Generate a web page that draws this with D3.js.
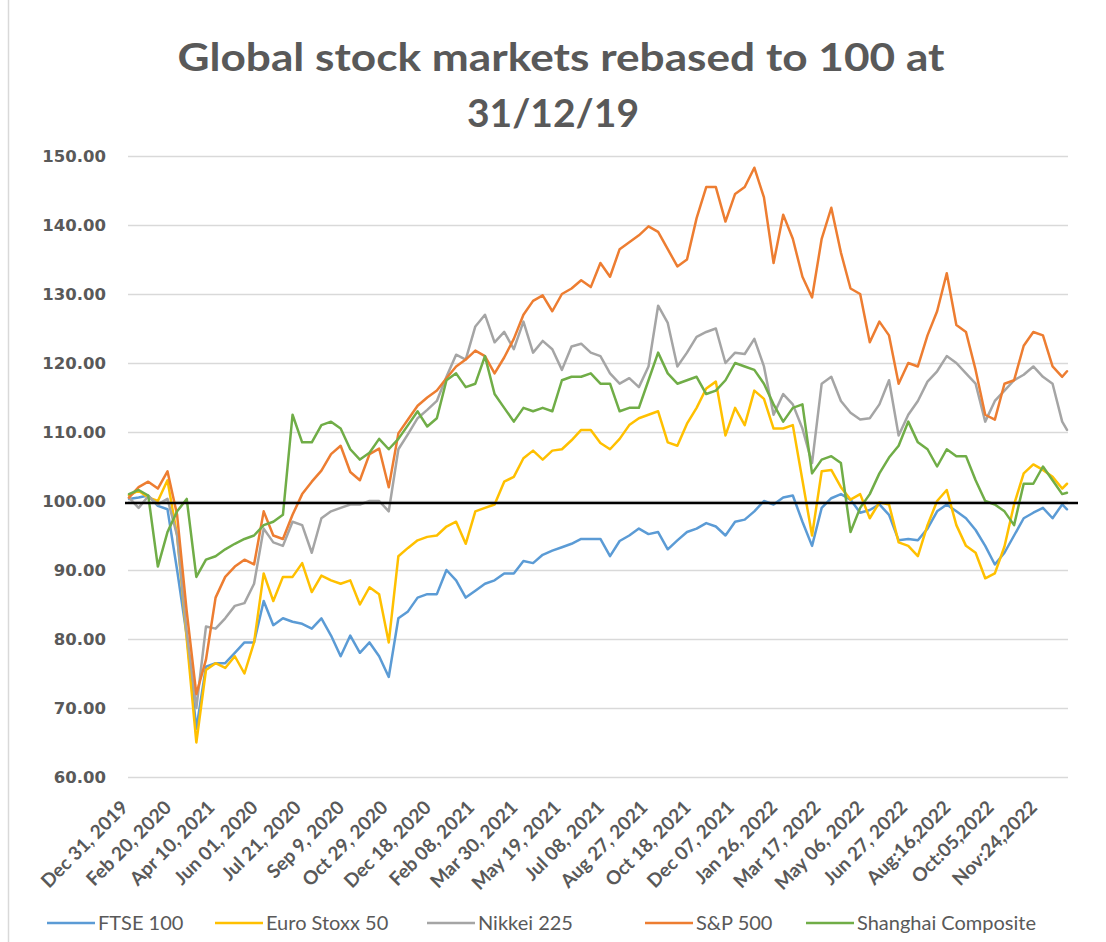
<!DOCTYPE html>
<html>
<head>
<meta charset="utf-8">
<script src="https://cdn.jsdelivr.net/npm/d3@7"></script>
<style>
  body { margin: 0; background: #fff; }
  svg { display: block; }
</style>
</head>
<body>
<script>

// ---- data (one value every 8th trading day) ----

var dayIndex = d3.range(0, 777, 8).concat([780]);

var axisLabels = ["Dec 31, 2019", "Feb 20, 2020", "Apr 10, 2021", "Jun 01, 2020", "Jul 21, 2020",
    "Sep 9, 2020", "Oct 29, 2020", "Dec 18, 2020", "Feb 08, 2021", "Mar 30, 2021", "May 19, 2021",
    "Jul 08, 2021", "Aug 27, 2021", "Oct 18, 2021", "Dec 07, 2021", "Jan 26, 2022", "Mar 17, 2022",
    "May 06, 2022", "Jun 27, 2022", "Aug:16,2022", "Oct:05,2022", "Nov:24,2022"];
var labelEvery = 36;

var seriesNames = ["FTSE 100", "Euro Stoxx 50", "Nikkei 225", "S&P 500", "Shanghai Composite"];
var seriesColors = ["#5B9BD5", "#FFC000", "#A5A5A5", "#ED7D31", "#70AD47"];

var ftse = [100.3, 100.5, 100.8, 99.3, 98.8, 90, 80.5, 67, 76, 76.5,
    76.5, 78, 79.5, 79.5, 85.5, 82, 83, 82.5, 82.2, 81.5,
    83, 80.5, 77.5, 80.5, 78, 79.5, 77.5, 74.5, 83, 84,
    86, 86.5, 86.5, 90, 88.5, 86, 87, 88, 88.5, 89.5,
    89.5, 91.3, 91, 92.2, 92.8, 93.3, 93.8, 94.5, 94.5, 94.5,
    92, 94.2, 95, 96, 95.2, 95.5, 93, 94.3, 95.5, 96,
    96.8, 96.3, 95, 97, 97.3, 98.5, 100, 99.5, 100.5, 100.8,
    97, 93.5, 99, 100.4, 101, 100.2, 98.3, 98.7, 99.5, 98,
    94.3, 94.5, 94.3, 96, 98.5, 99.5, 98.5, 97.5, 95.8, 93.5,
    90.8, 92.5, 95, 97.5, 98.3, 99, 97.5, 99.5, 98.8];

var stoxx = [100.8, 101.5, 100.5, 100, 103, 95, 80, 65, 75.5, 76.5,
    75.8, 77.5, 75, 79.5, 89.5, 85.5, 89, 89, 91, 86.8,
    89.2, 88.5, 88, 88.5, 85, 87.5, 86.5, 79.5, 92, 93.2,
    94.3, 94.8, 95, 96.3, 97, 93.8, 98.5, 99, 99.5, 102.8,
    103.5, 106.2, 107.3, 106, 107.3, 107.5, 108.8, 110.3, 110.3, 108.4,
    107.5, 109, 111, 112, 112.5, 113, 108.5, 108, 111.2, 113.5,
    116.3, 117.3, 109.5, 113.5, 111, 116, 114.8, 110.5, 110.5, 111,
    103, 95, 104.3, 104.5, 102, 100.2, 101, 97.5, 99.8, 99.5,
    94, 93.5, 92, 96.5, 100, 101.6, 96.5, 93.5, 92.5, 88.8,
    89.5, 93.4, 99.5, 104, 105.3, 104.5, 103.5, 101.8, 102.5];

var nikkei = [100.5, 99, 100.7, 99.5, 100.3, 95, 81, 70, 81.8, 81.5,
    83, 84.8, 85.2, 88, 96, 94, 93.5, 97, 96.5, 92.5,
    97.5, 98.5, 99, 99.5, 99.5, 100, 100, 98.5, 107.5, 109.7,
    112, 113.2, 114.5, 118, 121.2, 120.5, 125.3, 127, 123, 124.5,
    122, 126, 121.5, 123.2, 122, 119, 122.4, 122.8, 121.5, 121,
    118.5, 117, 117.8, 116.5, 119.5, 128.3, 125.8, 119.5, 121.5, 123.8,
    124.5, 125, 120, 121.5, 121.3, 123.5, 119.5, 112.5, 115.5, 114,
    110.5, 105.5, 117, 118, 114.5, 112.8, 111.8, 112, 114, 117.5,
    109.5, 112.5, 114.5, 117.3, 118.8, 121, 120, 118.5, 117, 111.5,
    114.5, 116, 117.5, 118.3, 119.5, 118, 117, 111.5, 110.3];

var sp500 = [100.5, 102, 102.8, 101.8, 104.3, 98, 84, 72, 77, 86,
    89, 90.5, 91.5, 90.8, 98.5, 95, 94.5, 98, 101, 102.8,
    104.4, 106.8, 108, 104.2, 103, 106.8, 107.6, 102, 109.8, 111.8,
    113.8, 115, 116, 117.8, 119.5, 120.5, 121.8, 121, 118.5, 120.8,
    123.5, 127, 129, 129.8, 127.5, 130, 130.8, 132, 131, 134.5,
    132.5, 136.5, 137.5, 138.5, 139.8, 139, 136.5, 134, 135, 141,
    145.5, 145.5, 140.5, 144.5, 145.5, 148.3, 144, 134.5, 141.5, 138,
    132.5, 129.5, 138, 142.5, 136, 130.8, 130, 123, 126, 124,
    117, 120, 119.5, 124, 127.5, 133, 125.5, 124.5, 119, 112.5,
    111.8, 117, 117.5, 122.5, 124.5, 124, 119.5, 118, 118.8];

var shanghai = [101, 101.6, 100.8, 90.5, 95.5, 98.5, 100.3, 89, 91.5, 92,
    93, 93.8, 94.5, 95, 96.5, 97, 98, 112.5, 108.5, 108.5,
    111, 111.5, 110.5, 107.5, 106, 107, 109, 107.5, 109, 111,
    113, 110.8, 112, 117.5, 118.5, 116.5, 117, 121, 115.5, 113.5,
    111.5, 113.5, 113, 113.5, 113, 117.5, 118, 118, 118.5, 117,
    117, 113, 113.5, 113.5, 117.5, 121.5, 118.5, 117, 117.5, 118,
    115.5, 116, 117.5, 120, 119.5, 119, 117, 114, 111.5, 113.5,
    114, 104, 106, 106.5, 105.5, 95.5, 99, 101, 104, 106.3,
    108, 111.5, 108.5, 107.5, 105, 107.5, 106.5, 106.5, 103, 100,
    99.5, 98.5, 96.5, 102.5, 102.5, 105, 103, 101, 101.2];

var allSeries = [ftse, stoxx, nikkei, sp500, shanghai];
var baselineValue = 99.7;

// ---- set up the svg ----

var W = 1106, H = 942;
var plotLeft = 128, plotRight = 1068, plotTop = 156, plotBottom = 777;
var textGrey = "#595959";

var svg = d3.select("body")
    .append("svg")
    .attr("width", W)
    .attr("height", H);

// chart frame edge on the left
svg.append("line")
    .attr("x1", 8.5).attr("x2", 8.5)
    .attr("y1", 0).attr("y2", H)
    .attr("stroke", "#d9d9d9")
    .attr("stroke-width", 1.5);

var x = d3.scaleLinear().domain([0, 780]).range([plotLeft + 1, plotRight - 1]);
var y = d3.scaleLinear().domain([60, 150]).range([plotBottom, plotTop]);

// title
var title = svg.append("g")
    .attr("font-family", "Lato, sans-serif")
    .attr("font-weight", "bold")
    .attr("font-size", 39)
    .attr("fill", textGrey)
    .attr("text-anchor", "middle");
title.append("text")
    .attr("x", 561).attr("y", 71)
    .attr("textLength", 767).attr("lengthAdjust", "spacingAndGlyphs")
    .text("Global stock markets rebased to 100 at");
title.append("text")
    .attr("x", 553).attr("y", 127)
    .text("31/12/19");

// y axis with gridlines
var yAxis = d3.axisLeft(y)
    .tickValues(d3.range(60, 151, 10))
    .tickSize(-(plotRight - plotLeft))
    .tickPadding(22)
    .tickFormat(d3.format(".2f"));

var gy = svg.append("g")
    .attr("transform", "translate(" + plotLeft + ",0)")
    .call(yAxis);
gy.select(".domain").remove();
gy.selectAll(".tick line")
    .attr("stroke", "#d9d9d9")
    .attr("stroke-width", 1.5);
gy.selectAll(".tick text")
    .attr("font-family", "'DejaVu Sans', sans-serif")
    .attr("font-weight", "bold")
    .attr("font-size", 16.5)
    .attr("fill", textGrey);

// x axis labels, rotated
var xAxis = d3.axisBottom(x)
    .tickValues(axisLabels.map(function(d, i) { return i * labelEvery; }))
    .tickSize(0)
    .tickFormat(function(d) { return axisLabels[d / labelEvery]; });

var gx = svg.append("g")
    .attr("transform", "translate(0," + plotBottom + ")")
    .call(xAxis);
gx.select(".domain").remove();
gx.selectAll(".tick text")
    .attr("x", 0).attr("y", 0).attr("dy", "0.35em")
    .attr("transform", "translate(-5,27) rotate(-45)")
    .style("text-anchor", "end")
    .attr("font-family", "Lato, sans-serif")
    .attr("font-weight", "bold")
    .attr("font-size", 19)
    .attr("fill", textGrey);

// the lines
var line = d3.line()
    .x(function(d, i) { return x(dayIndex[i]); })
    .y(function(d) { return y(d); });

svg.append("g")
    .selectAll("path")
    .data(allSeries)
    .enter()
    .append("path")
    .attr("d", line)
    .attr("fill", "none")
    .attr("stroke", function(d, i) { return seriesColors[i]; })
    .attr("stroke-width", 2.5)
    .attr("stroke-linejoin", "round")
    .attr("stroke-linecap", "round");

// black 100 line drawn on top
svg.append("line")
    .attr("x1", plotLeft - 3).attr("x2", plotRight + 10)
    .attr("y1", y(baselineValue)).attr("y2", y(baselineValue))
    .attr("stroke", "#000")
    .attr("stroke-width", 2.5);

// legend
var legendX = [47, 215, 427, 645, 806];
var legendY = 923;
var legend = svg.append("g")
    .selectAll("g")
    .data(seriesNames)
    .enter()
    .append("g")
    .attr("transform", function(d, i) { return "translate(" + legendX[i] + "," + legendY + ")"; });
legend.append("line")
    .attr("x1", 0).attr("x2", 48)
    .attr("stroke", function(d, i) { return seriesColors[i]; })
    .attr("stroke-width", 2.5);
legend.append("text")
    .attr("x", 51)
    .attr("dy", "0.35em")
    .attr("font-family", "Lato, sans-serif")
    .attr("font-size", 20)
    .attr("fill", textGrey)
    .text(function(d) { return d; });

</script>
</body>
</html>
